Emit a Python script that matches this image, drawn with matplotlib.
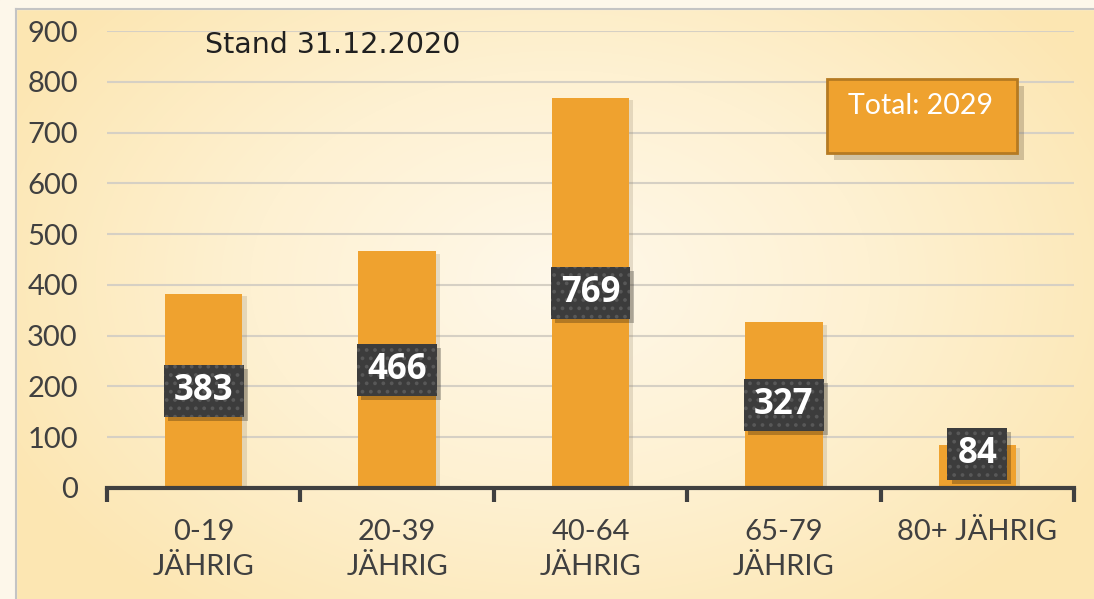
import numpy as np
import matplotlib
matplotlib.use("Agg")
import matplotlib.pyplot as plt
from matplotlib.patches import Rectangle, FancyBboxPatch
from matplotlib import patheffects as pe
from matplotlib.colors import LinearSegmentedColormap

categories = ["0-19\nJÄHRIG", "20-39\nJÄHRIG", "40-64\nJÄHRIG", "65-79\nJÄHRIG", "80+ JÄHRIG"]
values = [383, 466, 769, 327, 84]
yticks = [0, 100, 200, 300, 400, 500, 600, 700, 800, 900]
title_text = "Stand 31.12.2020"
total_text = "Total: 2029"

W, H = 1094, 599
fig = plt.figure(figsize=(W / 100, H / 100), dpi=100)
fig.patch.set_facecolor("#FDF7E8")

# background with radial gradient
bg = fig.add_axes([0, 0, 1, 1], zorder=-10)
yy, xx = np.mgrid[0:H, 0:W]
r = np.sqrt(((xx - 560) / 620.0) ** 2 + ((yy - 280) / 420.0) ** 2)
r = np.clip(r, 0, 1)
cmap = LinearSegmentedColormap.from_list("bgc", ["#FFF8EA", "#FEF1D2", "#FCE6B2"])
bg.imshow(r, cmap=cmap, extent=[0, W, H, 0], aspect="auto", vmin=0, vmax=1)
bg.add_patch(Rectangle((0, 0), 16, H, color="#FDF7EA", zorder=2))
bg.add_patch(Rectangle((0, 0), W, 9, color="#FDF7EA", zorder=2))
bg.plot([16, 16], [9, H], color="#C4C4C4", lw=1.5, zorder=3)
bg.plot([16, W], [9, 9], color="#C4C4C4", lw=1.5, zorder=3)
bg.set_xlim(0, W)
bg.set_ylim(H, 0)
bg.axis("off")

ax = fig.add_axes([107 / W, 1 - 488 / H, (1074 - 107) / W, (488 - 31) / H])
ax.set_facecolor("none")
x = np.arange(len(values))
bar_color = "#EFA22F"
bars = ax.bar(x, values, width=0.4, color=bar_color, zorder=3)
for b in bars:
    b.set_path_effects([pe.SimplePatchShadow(offset=(3, -2), shadow_rgbFace="#9a8a70", alpha=0.25),
                        pe.Normal()])

ax.set_xlim(-0.5, len(values) - 0.5)
ax.set_ylim(0, 900)
ax.set_yticks(yticks)
ax.set_yticklabels([str(t) for t in yticks], fontsize=21, color="#404040", family="Lato")
ax.tick_params(axis="y", length=0, pad=21)
ax.yaxis.grid(True, color="#D6D0C4", lw=1.5, zorder=0)
ax.set_axisbelow(True)
ax.set_xticks(x)
ax.set_xticklabels(categories, fontsize=21, color="#404040", family="Lato", linespacing=1.45)
ax.tick_params(axis="x", which="major", length=0, pad=22)
ax.set_xticks(np.arange(-0.5, len(values), 1.0), minor=True)
ax.tick_params(axis="x", which="minor", length=10, width=3, color="#404040", direction="out")
for s in ["left", "right", "top"]:
    ax.spines[s].set_visible(False)
ax.spines["bottom"].set_color("#404040")
ax.spines["bottom"].set_linewidth(3)
ax.spines["bottom"].set_zorder(5)

# value labels
fig.canvas.draw()
renderer = fig.canvas.get_renderer()
px_per_unit_y = (488 - 31) / 900.0
box_h = 52 / px_per_unit_y
px_per_unit_x = (1074 - 107) / len(values)
plt.rcParams["hatch.linewidth"] = 1.5
for xi, v in zip(x, values):
    yc = max(v / 2.0, 67)
    t = ax.text(xi, yc, str(v), ha="center", va="center", fontsize=25, fontweight="bold",
                family="Open Sans", color="white", zorder=8)
    bb = t.get_window_extent(renderer)
    wpx = bb.width + 20
    wd = wpx / px_per_unit_x
    sh = Rectangle((xi - wd / 2, yc - box_h / 2), wd, box_h, facecolor="#000000", lw=0, zorder=5)
    sh.set_path_effects([pe.SimplePatchShadow(offset=(3, -3), shadow_rgbFace="#000000", alpha=0.25)])
    ax.add_patch(sh)
    rect = Rectangle((xi - wd / 2, yc - box_h / 2), wd, box_h, facecolor="#3C3C3C",
                     edgecolor="#585858", lw=0, hatch="..", zorder=6)
    ax.add_patch(rect)

# title
fig.text(205 / W, 1 - 45 / H, title_text, fontsize=20.5, color="#202020", family="DejaVu Sans",
         ha="left", va="center")

# total box
tb = FancyBboxPatch((827 / W, 1 - 153 / H), (1017 - 827) / W, (153 - 79) / H,
                    boxstyle="square,pad=0", transform=fig.transFigure,
                    facecolor="#EFA22F", edgecolor="#B57A22", lw=2, zorder=10)
tb.set_path_effects([pe.SimplePatchShadow(offset=(5, -5), shadow_rgbFace="#6b5a40", alpha=0.3),
                     pe.Normal()])
fig.add_artist(tb)
fig.text(920 / W, 1 - 106 / H, total_text, fontsize=20.5, color="white", family="Lato",
         ha="center", va="center", zorder=11)

fig.savefig("out.png", dpi=100, facecolor=fig.get_facecolor())
